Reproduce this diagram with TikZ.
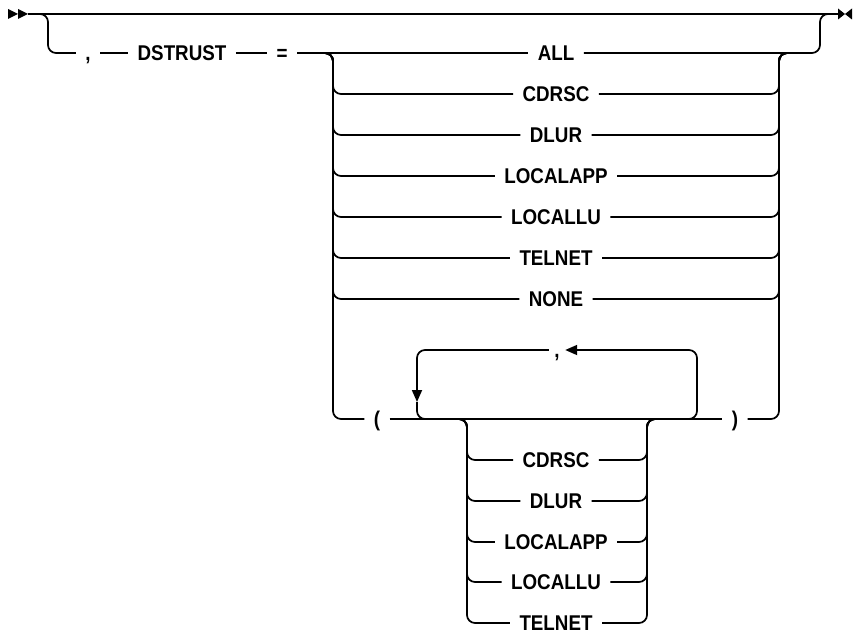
\documentclass[tikz,border=0pt]{standalone}
\usepackage{fontspec}
\setmainfont{Liberation Sans}[FakeStretch=0.88]
\usetikzlibrary{arrows.meta}
\begin{document}
\begin{tikzpicture}[x=0.75pt,y=-0.75pt,
  rail/.style={line width=1.3pt, rounded corners=6pt},
  lbl/.style={font=\fontsize{16}{18}\selectfont\bfseries, inner xsep=7pt, inner ysep=0pt, text height=11.5pt, text depth=0pt},
  tip/.style={-{Triangle[length=9pt,width=7.5pt]}},
]
\useasboundingbox (0,0) rectangle (856,642);

% start and end marks
\coordinate (start) at (28,14);
\coordinate (end) at (838,14);
\fill (8,9) -- (18,14) -- (8,19) -- cycle;
\fill (18,9) -- (28,14) -- (18,19) -- cycle;
\fill (838,8.5) -- (845,14) -- (838,19.5) -- cycle;
\fill (852,8.5) -- (845,14) -- (852,19.5) -- cycle;
\draw[rail] (start) -- (end);

% optional branch
\node[lbl] (comma) at (88,53) {,};
\node[lbl] (dstrust) at (182,53) {DSTRUST};
\node[lbl] (eq) at (282,53) {=};
\coordinate (bl) at (36,14);
\coordinate (br) at (832,14);
\draw[rail] (bl) -- (48,14) -- (48,53) -- (comma.west);
\draw[rail] (comma) -- (dstrust);
\draw[rail] (dstrust) -- (eq);

% main choice stack
\node[lbl] (all) at (556,53) {ALL};
\node[lbl] (cdrsc) at (556,94) {CDRSC};
\node[lbl] (dlur) at (556,135) {DLUR};
\node[lbl] (localapp) at (556,176) {LOCALAPP};
\node[lbl] (locallu) at (556,217) {LOCALLU};
\node[lbl] (telnet) at (556,258) {TELNET};
\node[lbl] (none) at (556,299) {NONE};
\node[lbl] (lparen) at (377,419) {(};
\node[lbl] (rparen) at (735,419) {)};

\draw[rail] (eq) -- (all);
\draw[rail] (all.east) -- (820,53) -- (820,14) -- (br);

\coordinate (sl) at (320,53);
\coordinate (sr) at (792,53);
\foreach \n in {cdrsc,dlur,localapp,locallu,telnet,none}{
  \draw[rail] (sl) -- (333,53) |- (\n.west);
  \draw[rail] (sr) -- (779,53) |- (\n.east);
}
\draw[rail] (sl) -- (333,53) |- (lparen.west);
\draw[rail] (sr) -- (779,53) |- (rparen.east);
\draw[rail] (lparen) -- (rparen);

% repeat loop
\node[lbl, inner xsep=4pt] (comma2) at (557,350) {,};
\coordinate (lr) at (685,419);
\coordinate (ll) at (430,419);
\coordinate (lm) at (417,402);
\draw[rail, tip] (lr) -- (697,419) -- (697,350) -- (comma2.east);
\draw[rail, tip] (comma2.west) -- (417,350) -- (lm);
\draw[rail] (lm) -- (417,419) -- (ll);

% inner choice stack
\node[lbl] (icdrsc) at (556,460) {CDRSC};
\node[lbl] (idlur) at (556,501) {DLUR};
\node[lbl] (ilocalapp) at (556,542) {LOCALAPP};
\node[lbl] (ilocallu) at (556,582) {LOCALLU};
\node[lbl] (itelnet) at (556,623) {TELNET};
\coordinate (il) at (455,419);
\coordinate (ir) at (659,419);
\foreach \n in {icdrsc,idlur,ilocalapp,ilocallu,itelnet}{
  \draw[rail] (il) -- (467,419) |- (\n.west);
  \draw[rail] (ir) -- (647,419) |- (\n.east);
}
\end{tikzpicture}
\end{document}
